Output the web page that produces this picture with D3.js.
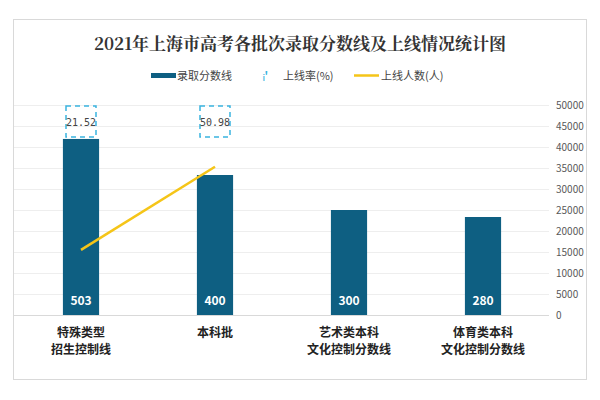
<!DOCTYPE html><html><head><meta charset="utf-8"><script src="https://cdn.jsdelivr.net/npm/d3@7"></script>
<style>body{margin:0;background:#fff}</style></head><body><svg id="c" width="600" height="400"></svg>
<script>
const categories=[["特殊类型","招生控制线"],["本科批"],["艺术类本科","文化控制分数线"],["体育类本科","文化控制分数线"]];
const scores=[503,400,300,280];
const rates=[21.52,50.98,null,null];
const people=[15500,35300];
const rightTicks=[0,5000,10000,15000,20000,25000,30000,35000,40000,45000,50000];
const svg=d3.select("#c");
const f="'Noto Sans CJK SC',sans-serif";
svg.append("rect").attr("x",13.5).attr("y",19.5).attr("width",573).attr("height",360).attr("fill","none").attr("stroke","#d9d9d9");
svg.append("text").attr("x",300).attr("y",50).attr("text-anchor","middle").attr("font-family","'Noto Serif CJK SC','Noto Sans CJK SC',serif").attr("font-weight","bold").attr("font-size",17).attr("fill","#333").text("2021年上海市高考各批次录取分数线及上线情况统计图");
const x=d3.scaleBand().domain(d3.range(4)).range([14,550]).paddingInner(0.73).paddingOuter(0.365);
const yL=d3.scaleLinear().domain([0,600]).range([315,105]);
const yR=d3.scaleLinear().domain([0,50000]).range([315,105]);
const g=svg.append("g");
rightTicks.forEach(t=>{g.append("line").attr("x1",14).attr("x2",549).attr("y1",yR(t)+.5).attr("y2",yR(t)+.5).attr("stroke",t?"#eeeeee":"#d9d9d9");
g.append("text").attr("x",556).attr("y",yR(t)+4).attr("font-family",f).attr("font-size",10).attr("fill","#595959").text(t);});
scores.forEach((s,i)=>{g.append("rect").attr("x",x(i)).attr("y",yL(s)).attr("width",x.bandwidth()).attr("height",315-yL(s)).attr("fill","#0e5f82");
g.append("text").attr("x",x(i)+x.bandwidth()/2).attr("y",305).attr("text-anchor","middle").attr("font-family",f).attr("font-weight","bold").attr("font-size",12).attr("fill","#fff").text(s);
categories[i].forEach((l,j)=>g.append("text").attr("x",x(i)+x.bandwidth()/2).attr("y",337+j*17).attr("text-anchor","middle").attr("font-family",f).attr("font-weight","bold").attr("font-size",12).attr("fill","#222").text(l));
if(rates[i]!=null){const cx=x(i)+x.bandwidth()/2;
g.append("rect").attr("x",cx-15).attr("y",106).attr("width",30).attr("height",31).attr("fill","none").attr("stroke","#3ab4e0").attr("stroke-width",1.5).attr("stroke-dasharray","5,4");
g.append("text").attr("x",cx).attr("y",126).attr("text-anchor","middle").attr("font-family","'DejaVu Sans Mono',monospace").attr("font-size",10).attr("fill","#444").text(rates[i].toFixed(2));}});
const line=d3.line().x((d,i)=>x(i)+x.bandwidth()/2).y(d=>yR(d));
g.append("path").attr("d",line(people)).attr("fill","none").attr("stroke","#f5c518").attr("stroke-width",2.5);
const lg=svg.append("g").attr("font-family",f).attr("font-size",11).attr("fill","#444");
lg.append("rect").attr("x",151).attr("y",73).attr("width",25).attr("height",5).attr("fill","#0e5f82");
lg.append("text").attr("x",177).attr("y",80).text("录取分数线");
lg.append("text").attr("x",263).attr("y",80).attr("fill","#3ab4e0").attr("font-weight","bold").text("ᵢ'");
lg.append("text").attr("x",283).attr("y",80).text("上线率(%)");
lg.append("line").attr("x1",354).attr("x2",379).attr("y1",75.5).attr("y2",75.5).attr("stroke","#f5c518").attr("stroke-width",2.5);
lg.append("text").attr("x",381).attr("y",80).text("上线人数(人)");
</script></body></html>
